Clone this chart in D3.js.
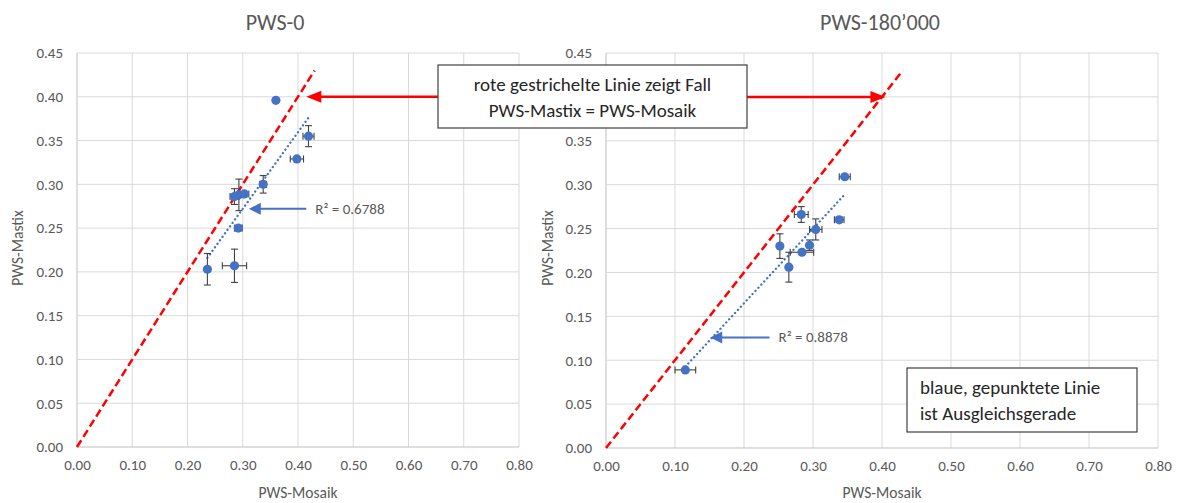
<!DOCTYPE html>
<html>
<head>
<meta charset="utf-8">
<script src="https://cdn.jsdelivr.net/npm/d3@7"></script>
<style>
  body { margin: 0; background: #fff; }
  svg { display: block; }
  text { font-family: Carlito, Calibri, Lato, sans-serif; }
</style>
</head>
<body>
<div id="chart"></div>
<script>
// ---- data ----
const xTicks = [0, 0.1, 0.2, 0.3, 0.4, 0.5, 0.6, 0.7, 0.8];
const yTicks = [0, 0.05, 0.1, 0.15, 0.2, 0.25, 0.3, 0.35, 0.4, 0.45];

// PWS-0
const pws0Mosaik = [0.360, 0.419, 0.398, 0.337, 0.285, 0.293, 0.303, 0.292, 0.236, 0.285];
const pws0Mastix = [0.396, 0.355, 0.329, 0.300, 0.286, 0.288, 0.289, 0.250, 0.203, 0.207];
const pws0ErrX   = [0,     0.010, 0.012, 0.006, 0.008, 0.008, 0.008, 0.007, 0,     0.022];
const pws0ErrY   = [0,     0.012, 0,     0.010, 0.009, 0.018, 0,     0.003, 0.018, 0.019];
const pws0R2 = "R² = 0.6788";

// PWS-180'000
const pws180Mosaik = [0.346, 0.283, 0.338, 0.304, 0.252, 0.295, 0.284, 0.265, 0.115];
const pws180Mastix = [0.309, 0.266, 0.260, 0.249, 0.230, 0.231, 0.223, 0.206, 0.089];
const pws180ErrX   = [0.008, 0.010, 0.007, 0.009, 0,     0,     0.017, 0,     0.015];
const pws180ErrY   = [0,     0.009, 0.003, 0.012, 0.014, 0.006, 0,     0.017, 0];
const pws180R2 = "R² = 0.8878";

// red reference line PWS-Mastix = PWS-Mosaik
const identityEnds = [0, 0.43];

const blue = "#4472C4", grey = "#595959", grid = "#d9d9d9";

const svg = d3.select("#chart").append("svg")
  .attr("width", 1178).attr("height", 503);

function drawPanel(p) {
  const x = d3.scaleLinear().domain([0, 0.8]).range([p.left, p.right]);
  const y = d3.scaleLinear().domain([0, 0.45]).range([p.bottom, p.top]);
  const g = svg.append("g");
  const fmt = d3.format(".2f");

  // grid
  g.selectAll(".vg").data(xTicks).enter().append("line")
    .attr("x1", d => x(d)).attr("x2", d => x(d))
    .attr("y1", p.top).attr("y2", p.bottom)
    .attr("stroke", d => d === 0 ? "#bfbfbf" : grid);
  g.selectAll(".hg").data(yTicks).enter().append("line")
    .attr("x1", p.left).attr("x2", p.right)
    .attr("y1", d => y(d)).attr("y2", d => y(d))
    .attr("stroke", d => d === 0 ? "#bfbfbf" : grid);

  // axes labels (labels hidden behind the note box are left out)
  const yVals = yTicks.filter(d => !(p.hiddenY || []).includes(d));
  const xa = g.append("g").attr("transform", "translate(0," + p.bottom + ")")
    .call(d3.axisBottom(x).tickValues(xTicks).tickFormat(fmt).tickSize(0).tickPadding(12));
  const ya = g.append("g").attr("transform", "translate(" + p.left + ",0)")
    .call(d3.axisLeft(y).tickValues(yVals).tickFormat(fmt).tickSize(0).tickPadding(14));
  [xa, ya].forEach(a => {
    a.select(".domain").remove();
    a.selectAll("text").attr("fill", grey).style("font-size", "15px")
      .style("font-family", "Carlito, Calibri, Lato, sans-serif");
  });

  // titles
  g.append("text").attr("x", p.titleX).attr("y", 30).attr("text-anchor", "middle")
    .attr("fill", grey).style("font-size", "22px").text(p.title);
  g.append("text").attr("x", (p.left + p.right) / 2).attr("y", 498).attr("text-anchor", "middle")
    .attr("fill", grey).style("font-size", "15.5px").text("PWS-Mosaik");
  g.append("text").attr("transform", "translate(" + p.yTitleX + ",248) rotate(-90)")
    .attr("text-anchor", "middle").attr("fill", grey).style("font-size", "15.5px").text("PWS-Mastix");

  // red dashed identity line
  g.append("line")
    .attr("x1", x(identityEnds[0])).attr("y1", y(identityEnds[0]))
    .attr("x2", x(identityEnds[1])).attr("y2", y(identityEnds[1]))
    .attr("stroke", "#ff0000").attr("stroke-width", 2.5).attr("stroke-dasharray", "8,4");

  // trendline (least squares)
  const pts = p.xs.map((v, i) => [v, p.ys[i]]);
  const mx = d3.mean(p.xs), my = d3.mean(p.ys);
  const slope = d3.sum(pts, d => (d[0] - mx) * (d[1] - my)) / d3.sum(pts, d => (d[0] - mx) ** 2);
  const x0 = d3.min(p.xs), x1 = d3.max(p.xs);
  g.append("line")
    .attr("x1", x(x0)).attr("y1", y(my + slope * (x0 - mx)))
    .attr("x2", x(x1)).attr("y2", y(my + slope * (x1 - mx)))
    .attr("stroke", blue).attr("stroke-width", 2.3)
    .attr("stroke-linecap", "round").attr("stroke-dasharray", "0.1,4.2");

  // error bars
  const eb = g.append("g").attr("stroke", "#404040").attr("stroke-width", 1.1);
  pts.forEach((d, i) => {
    const ex = p.ex[i], ey = p.ey[i];
    if (ex > 0) {
      eb.append("line").attr("x1", x(d[0] - ex)).attr("x2", x(d[0] + ex))
        .attr("y1", y(d[1])).attr("y2", y(d[1]));
      [d[0] - ex, d[0] + ex].forEach(v => eb.append("line")
        .attr("x1", x(v)).attr("x2", x(v)).attr("y1", y(d[1]) - 3.5).attr("y2", y(d[1]) + 3.5));
    }
    if (ey > 0) {
      eb.append("line").attr("x1", x(d[0])).attr("x2", x(d[0]))
        .attr("y1", y(d[1] - ey)).attr("y2", y(d[1] + ey));
      [d[1] - ey, d[1] + ey].forEach(v => eb.append("line")
        .attr("x1", x(d[0]) - 3.5).attr("x2", x(d[0]) + 3.5).attr("y1", y(v)).attr("y2", y(v)));
    }
  });

  // points
  g.selectAll(".pt").data(pts).enter().append("circle")
    .attr("cx", d => x(d[0])).attr("cy", d => y(d[1])).attr("r", 4.6)
    .attr("fill", blue);

  // R² annotation
  const ay = y(p.r2At[1]);
  g.append("line").attr("x1", x(p.r2At[0]) + 10).attr("x2", x(p.r2At[2]))
    .attr("y1", ay).attr("y2", ay).attr("stroke", blue).attr("stroke-width", 2);
  g.append("path")
    .attr("d", `M${x(p.r2At[0])},${ay} l12,-6 l0,12 z`).attr("fill", blue);
  g.append("text").attr("x", x(p.r2At[2]) + 9).attr("y", ay + 5)
    .attr("fill", grey).style("font-size", "15px").text(p.r2);

  return { x, y };
}

const left = drawPanel({
  left: 77, right: 519, top: 53, bottom: 447, titleX: 275, yTitleX: 23,
  title: "PWS-0", xs: pws0Mosaik, ys: pws0Mastix, ex: pws0ErrX, ey: pws0ErrY,
  r2: pws0R2, r2At: [0.311, 0.272, 0.415]
});
const right = drawPanel({
  left: 606, right: 1158, top: 53, bottom: 448, titleX: 880, yTitleX: 553,
  title: "PWS-180’000", xs: pws180Mosaik, ys: pws180Mastix, ex: pws180ErrX, ey: pws180ErrY,
  r2: pws180R2, r2At: [0.151, 0.126, 0.237], hiddenY: [0.4]
});

// red arrows from the note box to the identity line
function redArrow(x1, x2, yy) {
  const dir = x2 > x1 ? 1 : -1;
  svg.append("line").attr("x1", x1).attr("x2", x2 - dir * 12).attr("y1", yy).attr("y2", yy)
    .attr("stroke", "#ff0000").attr("stroke-width", 2.5);
  svg.append("path")
    .attr("d", `M${x2},${yy} l${-dir * 15},-6 l0,12 z`).attr("fill", "#ff0000");
}
redArrow(438, left.x(0.415), left.y(0.40));
redArrow(747, right.x(0.405), right.y(0.40));

// note boxes
function noteBox(x, y, w, h, lines, anchor) {
  const g = svg.append("g");
  g.append("rect").attr("x", x).attr("y", y).attr("width", w).attr("height", h)
    .attr("fill", "#fff").attr("stroke", "#404040").attr("stroke-width", 1.2);
  lines.forEach((t, i) => {
    g.append("text")
      .attr("x", anchor === "middle" ? x + w / 2 : x + 13)
      .attr("y", y + 26 + i * 26)
      .attr("text-anchor", anchor).attr("fill", "#262626")
      .style("font-size", "19px").text(t);
  });
}
noteBox(438, 65, 309, 63, ["rote gestrichelte Linie zeigt Fall", "PWS-Mastix = PWS-Mosaik"], "middle");
noteBox(907, 368, 230, 64, ["blaue, gepunktete Linie", "ist Ausgleichsgerade"], "start");
</script>
</body>
</html>
